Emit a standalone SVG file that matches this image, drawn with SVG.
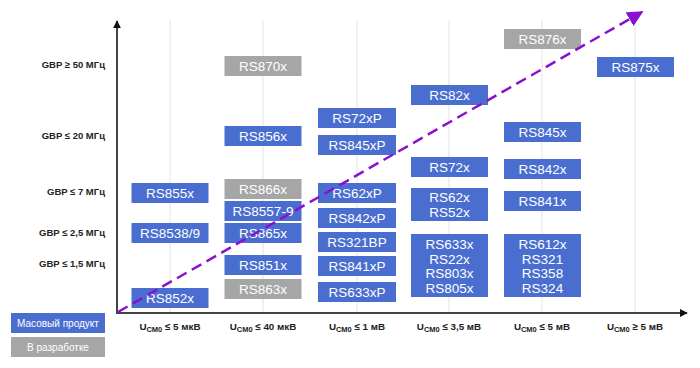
<svg xmlns="http://www.w3.org/2000/svg" width="700" height="368" viewBox="0 0 700 368">
<defs>
<style>
.b{fill:#4a6ed0}
.g{fill:#a6a6a6}
.t{font-family:"Liberation Sans",Arial,sans-serif;font-size:13.5px;fill:#fff;text-anchor:middle}
.lg{font-family:"Liberation Sans",Arial,sans-serif;font-size:10px;fill:#fff;text-anchor:middle}
.yl{font-family:"Liberation Sans",Arial,sans-serif;font-size:9.5px;font-weight:bold;fill:#222;text-anchor:end}
.xl{font-family:"Liberation Sans",Arial,sans-serif;font-size:9.8px;font-weight:bold;fill:#222;text-anchor:middle}
.grid{stroke:#e3e3e3;stroke-width:1}
</style>
<marker id="ah" viewBox="0 0 10 10" refX="9" refY="5" markerWidth="8" markerHeight="8" markerUnits="userSpaceOnUse" orient="auto"><path d="M0,0 L10,5 L0,10 z" fill="#111"/></marker>
<marker id="pa" viewBox="0 0 10 10" refX="9" refY="5" markerWidth="16" markerHeight="16" markerUnits="userSpaceOnUse" orient="auto"><path d="M0,0 L10,5 L0,10 z" fill="#8a0fd0"/></marker>
</defs>
<rect width="700" height="368" fill="#fff"/>
<g id="grid">
<line class="grid" x1="170" y1="20" x2="170" y2="312"/>
<line class="grid" x1="263" y1="20" x2="263" y2="312"/>
<line class="grid" x1="357" y1="20" x2="357" y2="312"/>
<line class="grid" x1="449" y1="20" x2="449" y2="312"/>
<line class="grid" x1="542" y1="20" x2="542" y2="312"/>
<line class="grid" x1="635" y1="20" x2="635" y2="312"/>
</g>
<g id="axes">
<line x1="117" y1="313" x2="117" y2="21" stroke="#444" stroke-width="2" marker-end="url(#ah)"/>
<line x1="116" y1="313" x2="687" y2="313" stroke="#444" stroke-width="2" marker-end="url(#ah)"/>
</g>
<g id="ylabels">
<text class="yl" x="105" y="68">GBP ≥ 50 МГц</text>
<text class="yl" x="105" y="139">GBP ≤ 20 МГц</text>
<text class="yl" x="105" y="195">GBP ≤ 7 МГц</text>
<text class="yl" x="105" y="236">GBP ≤ 2,5 МГц</text>
<text class="yl" x="105" y="267">GBP ≤ 1,5 МГц</text>
</g>
<g id="xlabels">
<text class="xl" x="170" y="330">U<tspan font-size="7.5" dy="2">СМ0</tspan><tspan dy="-2"> ≤ 5 мкВ</tspan></text>
<text class="xl" x="263" y="330">U<tspan font-size="7.5" dy="2">СМ0</tspan><tspan dy="-2"> ≤ 40 мкВ</tspan></text>
<text class="xl" x="357" y="330">U<tspan font-size="7.5" dy="2">СМ0</tspan><tspan dy="-2"> ≤ 1 мВ</tspan></text>
<text class="xl" x="449" y="330">U<tspan font-size="7.5" dy="2">СМ0</tspan><tspan dy="-2"> ≤ 3,5 мВ</tspan></text>
<text class="xl" x="542" y="330">U<tspan font-size="7.5" dy="2">СМ0</tspan><tspan dy="-2"> ≤ 5 мВ</tspan></text>
<text class="xl" x="635" y="330">U<tspan font-size="7.5" dy="2">СМ0</tspan><tspan dy="-2"> ≥ 5 мВ</tspan></text>
</g>
<g id="legend">
<g id="leg-mass"><rect class="b" x="11" y="313" width="94" height="20"/><text class="lg" x="58" y="327">Масовый продукт</text></g>
<g id="leg-dev"><rect class="g" x="11" y="337" width="94" height="20"/><text class="lg" x="58" y="351">В разработке</text></g>
</g>
<g id="nodes">
<g id="RS855x"><rect class="b" x="131.5" y="183" width="77" height="20"/><text class="t" x="170" y="197.5">RS855x</text></g>
<g id="RS8538-9"><rect class="b" x="131.5" y="223" width="77" height="20"/><text class="t" x="170" y="237.5">RS8538/9</text></g>
<g id="RS852x"><rect class="b" x="131.5" y="288" width="77" height="20"/><text class="t" x="170" y="302.5">RS852x</text></g>

<g id="RS870x"><rect class="g" x="224.5" y="56" width="77" height="20"/><text class="t" x="263" y="70.5">RS870x</text></g>
<g id="RS856x"><rect class="b" x="224.5" y="126" width="77" height="20"/><text class="t" x="263" y="140.5">RS856x</text></g>
<g id="RS866x"><rect class="g" x="224.5" y="179" width="77" height="20"/><text class="t" x="263" y="193.5">RS866x</text></g>
<g id="RS8557-9"><rect class="b" x="224.5" y="201" width="77" height="20"/><text class="t" x="263" y="215.5">RS8557-9</text></g>
<g id="RS865x"><rect class="b" x="224.5" y="223" width="77" height="20"/><text class="t" x="263" y="237.5">RS865x</text></g>
<g id="RS851x"><rect class="b" x="224.5" y="255" width="77" height="20"/><text class="t" x="263" y="269.5">RS851x</text></g>
<g id="RS863x"><rect class="g" x="224.5" y="279" width="77" height="20"/><text class="t" x="263" y="293.5">RS863x</text></g>

<g id="RS72xP"><rect class="b" x="318" y="108" width="78" height="20"/><text class="t" x="357" y="122.5">RS72xP</text></g>
<g id="RS845xP"><rect class="b" x="318" y="135" width="78" height="20"/><text class="t" x="357" y="149.5">RS845xP</text></g>
<g id="RS62xP"><rect class="b" x="318" y="183" width="78" height="20"/><text class="t" x="357" y="197.5">RS62xP</text></g>
<g id="RS842xP"><rect class="b" x="318" y="208" width="78" height="20"/><text class="t" x="357" y="222.5">RS842xP</text></g>
<g id="RS321BP"><rect class="b" x="318" y="232" width="78" height="20"/><text class="t" x="357" y="246.5">RS321BP</text></g>
<g id="RS841xP"><rect class="b" x="318" y="256" width="78" height="20"/><text class="t" x="357" y="270.5">RS841xP</text></g>
<g id="RS633xP"><rect class="b" x="318" y="282" width="78" height="20"/><text class="t" x="357" y="296.5">RS633xP</text></g>

<g id="RS82x"><rect class="b" x="411" y="85" width="77" height="20"/><text class="t" x="449.5" y="99.5">RS82x</text></g>
<g id="RS72x"><rect class="b" x="411" y="157" width="77" height="20"/><text class="t" x="449.5" y="171.5">RS72x</text></g>
<g id="RS62x-RS52x"><rect class="b" x="411" y="188" width="77" height="33"/><text class="t" x="449.5" y="202">RS62x</text><text class="t" x="449.5" y="216.5">RS52x</text></g>
<g id="RS633x-group"><rect class="b" x="411" y="234" width="77" height="63"/><text class="t" x="449.5" y="249">RS633x</text><text class="t" x="449.5" y="263.5">RS22x</text><text class="t" x="449.5" y="278">RS803x</text><text class="t" x="449.5" y="292.5">RS805x</text></g>

<g id="RS876x"><rect class="g" x="504" y="29" width="77" height="20"/><text class="t" x="542.5" y="43.5">RS876x</text></g>
<g id="RS845x"><rect class="b" x="504" y="122" width="77" height="20"/><text class="t" x="542.5" y="136.5">RS845x</text></g>
<g id="RS842x"><rect class="b" x="504" y="159" width="77" height="20"/><text class="t" x="542.5" y="173.5">RS842x</text></g>
<g id="RS841x"><rect class="b" x="504" y="191" width="77" height="20"/><text class="t" x="542.5" y="205.5">RS841x</text></g>
<g id="RS612x-group"><rect class="b" x="504" y="234" width="77" height="63"/><text class="t" x="542.5" y="249">RS612x</text><text class="t" x="542.5" y="263.5">RS321</text><text class="t" x="542.5" y="278">RS358</text><text class="t" x="542.5" y="292.5">RS324</text></g>

<g id="RS875x"><rect class="b" x="597" y="57" width="77" height="20"/><text class="t" x="635.5" y="71.5">RS875x</text></g>
</g>
<g id="connectors">
<line x1="118" y1="312" x2="642" y2="12" stroke="#8a0fd0" stroke-width="2.5" stroke-dasharray="11,6" marker-end="url(#pa)"/>
</g>
</svg>
